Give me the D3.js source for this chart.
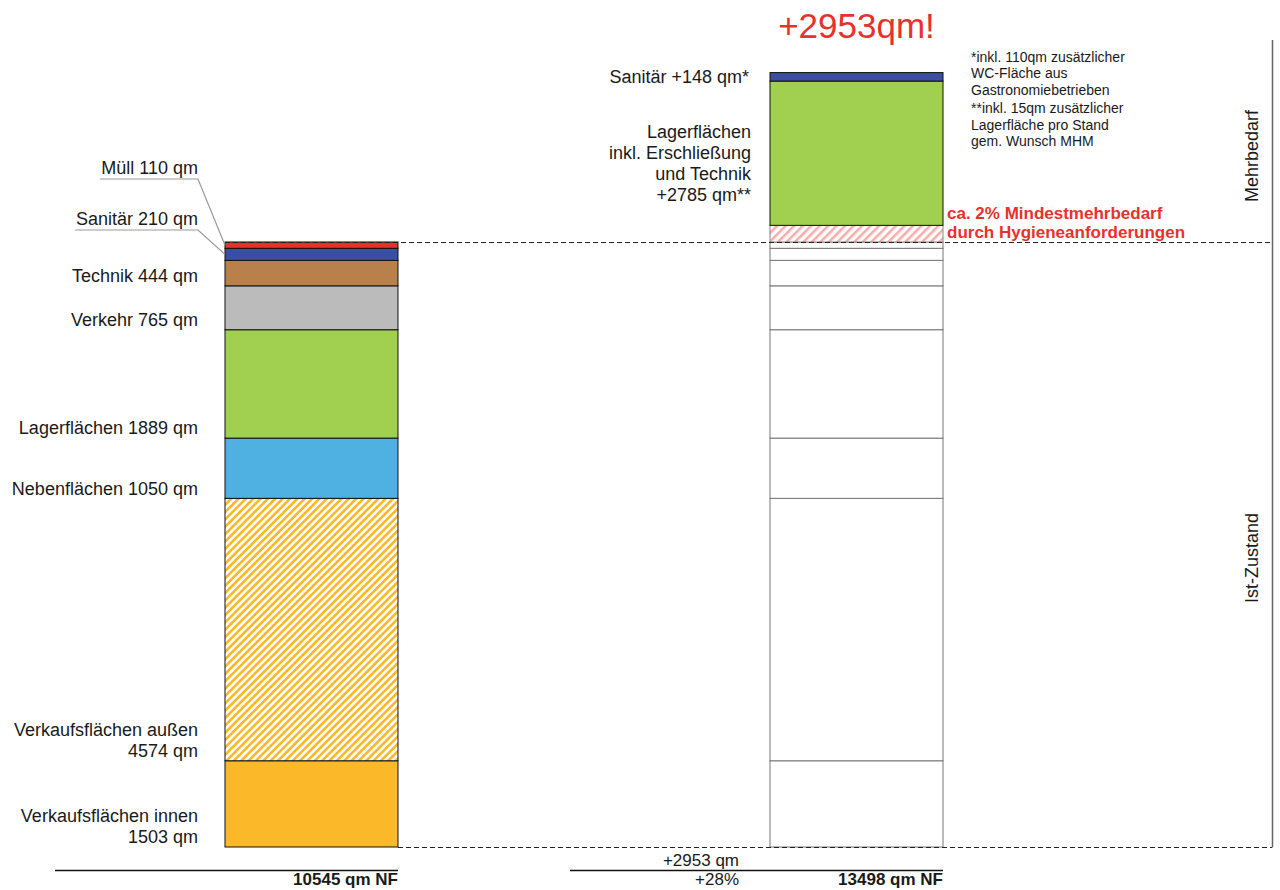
<!DOCTYPE html>
<html><head><meta charset="utf-8">
<script src="https://cdn.jsdelivr.net/npm/d3@7"></script>
<style>
body{margin:0;background:#fff}
svg{display:block}
text{font-family:"Liberation Sans",Arial,Helvetica,sans-serif;fill:#1a1a1a}
</style>
</head><body>
<svg id="chart" width="1280" height="890"></svg>
<script>
// ---------- data ----------
const bars = ["Ist-Zustand", "Planung"];
const istCategories = ["Verkaufsflächen innen", "Verkaufsflächen außen", "Nebenflächen", "Lagerflächen", "Verkehr", "Technik", "Sanitär", "Müll"];
const istValues = [1503, 4574, 1050, 1889, 765, 444, 210, 110];
const istWrap = [true, true, false, false, false, false, false, false];
const mehrCategories = ["Hygiene", "Lagerflächen", "Sanitär"];
const mehrValues = [290, 2515, 148];           // drawn heights
const mehrLabelLines = [
  ["ca. 2% Mindestmehrbedarf", "durch Hygieneanforderungen"],
  ["Lagerflächen", "inkl. Erschließung", "und Technik", "+2785 qm**"],
  ["Sanitär +148 qm*"]
];
const mehrTotal = 2953;
const notes = ["*inkl. 110qm zusätzlicher", "WC-Fläche aus", "Gastronomiebetrieben", "**inkl. 15qm zusätzlicher", "Lagerfläche pro Stand", "gem. Wunsch MHM"];
const sideLabels = ["Mehrbedarf", "Ist-Zustand"];

// ---------- styles ----------
const colors = {
  "Verkaufsflächen innen": "#fbb829",
  "Verkaufsflächen außen": "url(#hatchOrange)",
  "Nebenflächen": "#4fb1e2",
  "Lagerflächen": "#a1cf4f",
  "Verkehr": "#bbbbbb",
  "Technik": "#b8804a",
  "Sanitär": "#3a4fa0",
  "Müll": "#e8312a",
  "Hygiene": "url(#hatchRed)"
};

const svg = d3.select("#chart");
const defs = svg.append("defs");
function hatch(id, color, size, stripe) {
  const p = defs.append("pattern").attr("id", id).attr("patternUnits", "userSpaceOnUse")
    .attr("width", size).attr("height", size).attr("patternTransform", "rotate(45)");
  p.append("rect").attr("width", size).attr("height", size).attr("fill", "#fff");
  p.append("rect").attr("width", stripe).attr("height", size).attr("fill", color);
}
hatch("hatchOrange", "#fbb829", 5.2, 2.6);
hatch("hatchRed", "#f7aea8", 6, 2.6);

// ---------- scales ----------
const istTotal = d3.sum(istValues);
const planTotal = istTotal + mehrTotal;
const y = d3.scaleLinear().domain([0, istTotal]).range([847, 242]);
const x = d3.scaleBand().domain(bars).range([225, 943]).paddingInner(0.6826).paddingOuter(0);
const bw = x.bandwidth();
const xL = x(bars[0]), xR = x(bars[1]);

const istCum = Array.from(d3.cumsum(istValues));
const istSegs = istCategories.map((c, i) => ({name: c, v: istValues[i], y0: istCum[i] - istValues[i], y1: istCum[i], wrap: istWrap[i]}));
const mehrCum = Array.from(d3.cumsum(mehrValues)).map(v => v + istTotal);
const mehrSegs = mehrCategories.map((c, i) => ({name: c, v: mehrValues[i], y0: mehrCum[i] - mehrValues[i], y1: mehrCum[i], lines: mehrLabelLines[i]}));

// ---------- right bar (outline of Ist) ----------
svg.append("g").selectAll("rect").data(istSegs).join("rect")
  .attr("x", xR).attr("width", bw)
  .attr("y", d => y(d.y1)).attr("height", d => y(d.y0) - y(d.y1))
  .attr("fill", "#fff").attr("stroke", "#777").attr("stroke-width", 1);

svg.append("g").selectAll("rect").data(mehrSegs).join("rect")
  .attr("x", xR).attr("width", bw)
  .attr("y", d => y(d.y1)).attr("height", d => y(d.y0) - y(d.y1))
  .attr("fill", d => colors[d.name])
  .attr("stroke", d => d.name === "Hygiene" ? "#888" : "#111").attr("stroke-width", 1);

// ---------- left bar ----------
svg.append("g").selectAll("rect").data(istSegs).join("rect")
  .attr("x", xL).attr("width", bw)
  .attr("y", d => y(d.y1)).attr("height", d => y(d.y0) - y(d.y1))
  .attr("fill", d => colors[d.name]).attr("stroke", "#111").attr("stroke-width", 1);

// ---------- dashed guides ----------
const yTop = Math.round(y(istTotal)) + 0.5, yBot = Math.round(y(0)) + 0.5;
svg.append("line").attr("x1", xL).attr("x2", 1272).attr("y1", yTop).attr("y2", yTop)
  .attr("stroke", "#222").attr("stroke-width", 1).attr("stroke-dasharray", "5,3");
svg.append("line").attr("x1", xL + bw).attr("x2", 1272).attr("y1", yBot).attr("y2", yBot)
  .attr("stroke", "#222").attr("stroke-width", 1).attr("stroke-dasharray", "5,3");

// right vertical rule
svg.append("line").attr("x1", 1272.5).attr("x2", 1272.5).attr("y1", 40).attr("y2", yBot)
  .attr("stroke", "#666").attr("stroke-width", 1.5);

// ---------- left labels ----------
const lblX = xL - 27;
const fs = 18;
istSegs.forEach(d => {
  if (d.name === "Müll" || d.name === "Sanitär") return;
  const lines = d.wrap ? [d.name, d.v + " qm"] : [d.name + " " + d.v + " qm"];
  const bottom = y(d.y0) - 10;
  lines.forEach((t, j) => {
    svg.append("text").attr("x", lblX).attr("y", bottom - (lines.length - 1 - j) * 21)
      .attr("dy", "0.35em").attr("text-anchor", "end").attr("font-size", fs).text(t);
  });
});
// small segments with leader lines
const smallLbl = [{name: "Müll", cy: 168, ux: 100}, {name: "Sanitär", cy: 219, ux: 75}];
smallLbl.forEach(s => {
  const d = istSegs.find(e => e.name === s.name);
  svg.append("text").attr("x", lblX).attr("y", s.cy).attr("dy", "0.35em")
    .attr("text-anchor", "end").attr("font-size", fs).text(d.name + " " + d.v + " qm");
  const uy = s.cy + 11;
  svg.append("polyline")
    .attr("points", `${s.ux},${uy} ${lblX},${uy} ${xL},${y((d.y0 + d.y1) / 2)}`)
    .attr("fill", "none").attr("stroke", "#999").attr("stroke-width", 1.2);
});

// ---------- right (Mehrbedarf) labels ----------
const rLblX = xR - 21;
const sanR = mehrSegs[2];
svg.append("text").attr("x", rLblX).attr("y", y((sanR.y0 + sanR.y1) / 2)).attr("dy", "0.35em")
  .attr("text-anchor", "end").attr("font-size", fs).text(sanR.lines[0]);
const lagR = mehrSegs[1];
const lagMid = y((lagR.y0 + lagR.y1) / 2) + 10;
lagR.lines.forEach((t, j) => {
  svg.append("text").attr("x", rLblX + 2).attr("y", lagMid + (j - 1.5) * 21).attr("dy", "0.35em")
    .attr("text-anchor", "end").attr("font-size", fs).text(t);
});
const hyg = mehrSegs[0];
const hygMid = y((hyg.y0 + hyg.y1) / 2);
hyg.lines.forEach((t, j) => {
  svg.append("text").attr("x", xR + bw + 4).attr("y", hygMid - 21 + j * 19).attr("dy", "0.35em")
    .attr("font-size", 17).attr("font-weight", "bold").style("fill", "#e8312d").text(t);
});

// title
svg.append("text").attr("x", xR + bw / 2).attr("y", 38).attr("text-anchor", "middle")
  .attr("font-size", 35).style("fill", "#e8312d").text("+" + mehrTotal + "qm!");

// notes
notes.forEach((t, i) => {
  svg.append("text").attr("x", 971).attr("y", 57 + i * 16.4 + (i >= 3 ? 2 : 0)).attr("dy", "0.35em")
    .attr("font-size", 14).text(t);
});

// side labels
const sidePos = [{cy: 156}, {cy: 558}];
sideLabels.forEach((t, i) => {
  svg.append("text").attr("transform", `translate(1252,${sidePos[i].cy}) rotate(-90)`)
    .attr("dy", "0.35em").attr("text-anchor", "middle").attr("font-size", 18).text(t);
});

// ---------- bottom totals ----------
svg.append("line").attr("x1", 55).attr("x2", xL + bw).attr("y1", 870.5).attr("y2", 870.5)
  .attr("stroke", "#111").attr("stroke-width", 1.3);
svg.append("line").attr("x1", 570).attr("x2", xR + bw).attr("y1", 870.5).attr("y2", 870.5)
  .attr("stroke", "#111").attr("stroke-width", 1.3);
svg.append("text").attr("x", xL + bw).attr("y", 879.5).attr("dy", "0.35em").attr("text-anchor", "end")
  .attr("font-size", 17).attr("font-weight", "bold").text(istTotal + " qm NF");
svg.append("text").attr("x", xR + bw).attr("y", 879.5).attr("dy", "0.35em").attr("text-anchor", "end")
  .attr("font-size", 17).attr("font-weight", "bold").text(planTotal + " qm NF");
svg.append("text").attr("x", 739).attr("y", 860).attr("dy", "0.35em").attr("text-anchor", "end")
  .attr("font-size", 17).text("+" + (planTotal - istTotal) + " qm");
svg.append("text").attr("x", 739).attr("y", 879.5).attr("dy", "0.35em").attr("text-anchor", "end")
  .attr("font-size", 17).text("+" + Math.round((planTotal - istTotal) / istTotal * 100) + "%");
</script>
</body></html>
